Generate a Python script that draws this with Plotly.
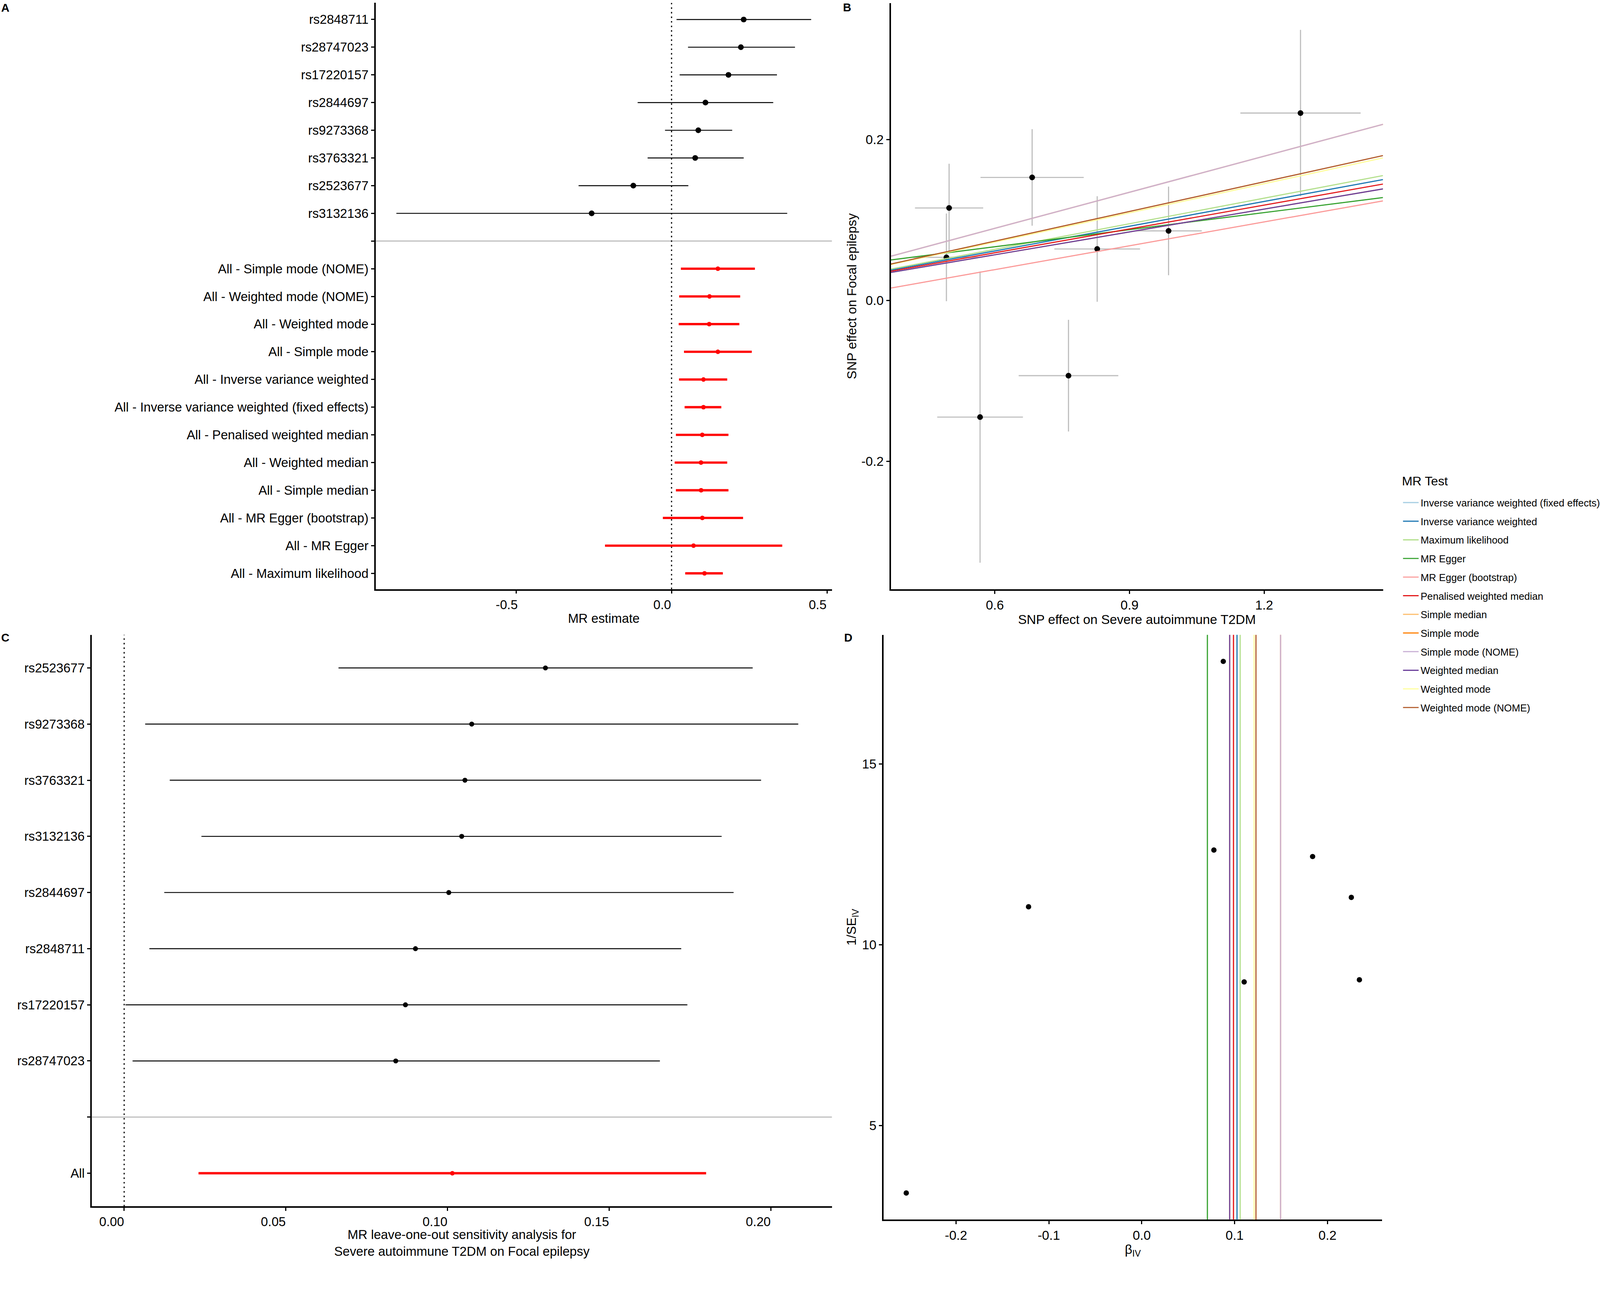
import plotly.graph_objects as go

# Reference picture size (photo pixels) and CSS scale of the photographed page
W, H = 4200, 3301
S = 1 / 1.024           # photo px -> css px


def P(v):
    return v * S


FONT = "Liberation Sans, Arial, sans-serif"

# ---------------- Panel A data ----------------
a_snps = ["rs2848711", "rs28747023", "rs17220157", "rs2844697",
          "rs9273368", "rs3763321", "rs2523677", "rs3132136"]
a_snp_b = [0.232, 0.223, 0.183, 0.109, 0.086, 0.076, -0.123, -0.257]
a_snp_lo = [0.016, 0.053, 0.026, -0.109, -0.021, -0.077, -0.299, -0.885]
a_snp_hi = [0.449, 0.397, 0.339, 0.327, 0.195, 0.232, 0.054, 0.372]

a_methods = ["All - Simple mode (NOME)", "All - Weighted mode (NOME)",
             "All - Weighted mode", "All - Simple mode",
             "All - Inverse variance weighted",
             "All - Inverse variance weighted (fixed effects)",
             "All - Penalised weighted median", "All - Weighted median",
             "All - Simple median", "All - MR Egger (bootstrap)",
             "All - MR Egger", "All - Maximum likelihood"]
a_meth_b = [0.149, 0.122, 0.121, 0.149, 0.1026, 0.1026, 0.0988, 0.0947,
            0.0950, 0.0990, 0.0707, 0.106]
a_meth_lo = [0.030, 0.0245, 0.023, 0.040, 0.024, 0.042, 0.014, 0.010,
             0.014, -0.028, -0.214, 0.044]
a_meth_hi = [0.268, 0.2207, 0.218, 0.258, 0.179, 0.160, 0.183, 0.179,
             0.183, 0.230, 0.356, 0.165]

# ---------------- Panel B data ----------------
b_bx = [0.498, 0.492, 0.683, 0.828, 0.987, 1.281, 0.764, 0.567]
b_by = [0.115, 0.0536, 0.153, 0.0640, 0.0865, 0.2330, -0.0935, -0.145]
b_sex = [0.076, 0.074, 0.115, 0.0955, 0.074, 0.134, 0.111, 0.0955]
b_sey = [0.055, 0.0545, 0.060, 0.0656, 0.0551, 0.1035, 0.0694, 0.181]

methods = ["Inverse variance weighted (fixed effects)",
           "Inverse variance weighted", "Maximum likelihood", "MR Egger",
           "MR Egger (bootstrap)", "Penalised weighted median",
           "Simple median", "Simple mode", "Simple mode (NOME)",
           "Weighted median", "Weighted mode", "Weighted mode (NOME)"]
method_b = [0.1026, 0.1026, 0.1060, 0.0707, 0.0988, 0.0988, 0.0947,
            0.1495, 0.1495, 0.0947, 0.1210, 0.1230]
method_a = [0, 0, 0, 0.0244, -0.0209, 0, 0, 0, 0, 0, 0, 0]
method_colors = ["#A6CEE3", "#1F78B4", "#B2DF8A", "#33A02C", "#FB9A99",
                 "#E31A1C", "#FDBF6F", "#FF7F00", "#CAB2D6", "#6A3D9A",
                 "#FFFF99", "#B15928"]

# ---------------- Panel C data ----------------
c_snps = ["rs2523677", "rs9273368", "rs3763321", "rs3132136",
          "rs2844697", "rs2848711", "rs17220157", "rs28747023"]
c_b = [0.1303, 0.1075, 0.1054, 0.1044, 0.1004, 0.0901, 0.0870, 0.0840]
c_lo = [0.0663, 0.0065, 0.0141, 0.0239, 0.0124, 0.0078, 0.0004, 0.0026]
c_hi = [0.1944, 0.2085, 0.1970, 0.1848, 0.1885, 0.1723, 0.1742, 0.1657]
c_all_b, c_all_lo, c_all_hi = 0.1015, 0.0230, 0.1800

# ---------------- Panel D data ----------------
d_beta = [0.0878, 0.0777, -0.1219, 0.1840, 0.2257, 0.1103, 0.2344, -0.2536]
d_invse = [17.84, 12.62, 11.05, 12.44, 11.31, 8.97, 9.03, 3.13]


# ---------------- helpers ----------------
def expand(lo, hi, f=0.05):
    s = hi - lo
    return [lo - f * s, hi + f * s]


def dom_x(x0, x1):
    return [x0 / W, x1 / W]


def dom_y(ytop, ybot):
    return [1 - ybot / H, 1 - ytop / H]


fig = go.Figure()

# ---- A ----
a_y_snp = list(range(len(a_snps)))
a_y_meth = list(range(len(a_snps) + 1, len(a_snps) + 1 + len(a_methods)))
fig.add_trace(go.Scatter(
    x=a_snp_b, y=a_y_snp, mode="markers", xaxis="x", yaxis="y",
    marker=dict(color="black", size=P(15)), showlegend=False,
    error_x=dict(type="data", symmetric=False,
                 array=[h - b for h, b in zip(a_snp_hi, a_snp_b)],
                 arrayminus=[b - l for b, l in zip(a_snp_b, a_snp_lo)],
                 color="black", thickness=P(2.5), width=0)))
fig.add_trace(go.Scatter(
    x=a_meth_b, y=a_y_meth, mode="markers", xaxis="x", yaxis="y",
    marker=dict(color="red", size=P(12)), showlegend=False,
    error_x=dict(type="data", symmetric=False,
                 array=[h - b for h, b in zip(a_meth_hi, a_meth_b)],
                 arrayminus=[b - l for b, l in zip(a_meth_b, a_meth_lo)],
                 color="red", thickness=P(6), width=0)))
a_xr = expand(min(a_snp_lo + a_meth_lo), max(a_snp_hi + a_meth_hi))
a_n = len(a_snps) + 1 + len(a_methods)

# ---- B ----
fig.add_trace(go.Scatter(
    x=b_bx, y=b_by, mode="markers", xaxis="x2", yaxis="y2",
    marker=dict(color="black", size=P(15)), showlegend=False,
    error_x=dict(type="data", array=b_sex, color="#BEBEBE", thickness=P(3), width=0),
    error_y=dict(type="data", array=b_sey, color="#BEBEBE", thickness=P(3), width=0)))
b_xr = expand(min(x - s for x, s in zip(b_bx, b_sex)),
              max(x + s for x, s in zip(b_bx, b_sex)))
b_yr = expand(min(y - s for y, s in zip(b_by, b_sey)),
              max(y + s for y, s in zip(b_by, b_sey)))
for m, b, a, col in zip(methods, method_b, method_a, method_colors):
    fig.add_trace(go.Scatter(
        x=b_xr, y=[a + b * x for x in b_xr], mode="lines",
        xaxis="x2", yaxis="y2", name=m, legendgroup=m,
        line=dict(color=col, width=P(3))))

# ---- C ----
c_y = list(range(len(c_snps)))
c_all_y = len(c_snps) + 1
fig.add_trace(go.Scatter(
    x=c_b, y=c_y, mode="markers", xaxis="x3", yaxis="y3",
    marker=dict(color="black", size=P(13)), showlegend=False,
    error_x=dict(type="data", symmetric=False,
                 array=[h - b for h, b in zip(c_hi, c_b)],
                 arrayminus=[b - l for b, l in zip(c_b, c_lo)],
                 color="black", thickness=P(2.5), width=0)))
fig.add_trace(go.Scatter(
    x=[c_all_b], y=[c_all_y], mode="markers", xaxis="x3", yaxis="y3",
    marker=dict(color="red", size=P(12)), showlegend=False,
    error_x=dict(type="data", symmetric=False,
                 array=[c_all_hi - c_all_b], arrayminus=[c_all_b - c_all_lo],
                 color="red", thickness=P(6), width=0)))
c_xr = expand(min(c_lo + [c_all_lo]), max(c_hi + [c_all_hi]))

# ---- D ----
fig.add_trace(go.Scatter(
    x=d_beta, y=d_invse, mode="markers", xaxis="x4", yaxis="y4",
    marker=dict(color="black", size=P(14)), showlegend=False))
d_xr = expand(min(d_beta + method_b), max(d_beta + method_b))
d_yr = expand(min(d_invse), max(d_invse))

DOT = "%.1fpx,%.1fpx" % (P(4), P(8))
shapes = []
shapes.append(dict(type="line", xref="x domain", yref="y", x0=0, x1=1,
                   y0=len(a_snps), y1=len(a_snps),
                   line=dict(color="#BEBEBE", width=P(3)), layer="below"))
shapes.append(dict(type="line", xref="x", yref="y domain", x0=0, x1=0, y0=0, y1=1,
                   line=dict(color="black", width=P(3), dash=DOT), layer="below"))
shapes.append(dict(type="line", xref="x3 domain", yref="y3", x0=0, x1=1,
                   y0=len(c_snps), y1=len(c_snps),
                   line=dict(color="#BEBEBE", width=P(3)), layer="below"))
shapes.append(dict(type="line", xref="x3", yref="y3 domain", x0=0, x1=0, y0=0, y1=1,
                   line=dict(color="black", width=P(3), dash=DOT), layer="below"))
for b, col in zip(method_b, method_colors):
    shapes.append(dict(type="line", xref="x4", yref="y4 domain", x0=b, x1=b,
                       y0=0, y1=1, line=dict(color=col, width=P(3)), layer="above"))

axis_common = dict(showline=True, linecolor="black", linewidth=P(4), ticks="outside",
                   ticklen=P(8), tickwidth=P(3), tickcolor="black", showgrid=False,
                   zeroline=False, mirror=False)
fs_ac = P(33.5)
fs_bd = P(34)

fig.update_layout(
    width=int(W * S), height=int(H * S), margin=dict(l=0, r=0, t=0, b=0),
    paper_bgcolor="white", plot_bgcolor="white",
    font=dict(family=FONT, color="black", size=fs_ac),
    shapes=shapes,
    xaxis=dict(axis_common, domain=dom_x(988, 2188), anchor="y", range=a_xr,
               tickvals=[-0.5, 0.0, 0.5], ticktext=["-0.5", "0.0", "0.5"],
               ticklabelshift=int(round(P(-25))), tickfont=dict(size=fs_ac),
               title=dict(text="MR estimate", font=dict(size=P(33.5)), standoff=P(8))),
    yaxis=dict(axis_common, domain=dom_y(7.6, 1549.5), anchor="x",
               range=[a_n - 1 + 0.57, -0.6],
               tickvals=list(range(a_n)), ticktext=a_snps + [""] + a_methods,
               tickfont=dict(size=fs_ac)),
    xaxis2=dict(axis_common, domain=dom_x(2343, 3637.5), anchor="y2", range=b_xr,
                tickvals=[0.6, 0.9, 1.2], ticktext=["0.6", "0.9", "1.2"],
                tickfont=dict(size=fs_bd),
                title=dict(text="SNP effect on Severe autoimmune T2DM",
                           font=dict(size=fs_bd), standoff=P(8))),
    yaxis2=dict(axis_common, domain=dom_y(8.4, 1550), anchor="x2", range=b_yr,
                tickvals=[-0.2, 0.0, 0.2], ticktext=["-0.2", "0.0", "0.2"],
                tickfont=dict(size=fs_bd),
                title=dict(text="SNP effect on Focal epilepsy",
                           font=dict(size=fs_bd), standoff=P(3))),
    xaxis3=dict(axis_common, domain=dom_x(241.5, 2188), anchor="y3", range=c_xr,
                tickvals=[0, 0.05, 0.10, 0.15, 0.20],
                ticktext=["0.00", "0.05", "0.10", "0.15", "0.20"],
                ticklabelshift=int(round(P(-33))), tickfont=dict(size=fs_ac),
                title=dict(text="MR leave-one-out sensitivity analysis for<br>"
                                "Severe autoimmune T2DM on Focal epilepsy",
                           font=dict(size=P(33.5)), standoff=P(10))),
    yaxis3=dict(axis_common, domain=dom_y(1669.7, 3173), anchor="x3",
                range=[c_all_y + 0.59, -0.59],
                tickvals=list(range(c_all_y + 1)), ticktext=c_snps + ["", "All"],
                tickfont=dict(size=fs_ac)),
    xaxis4=dict(axis_common, domain=dom_x(2324, 3635), anchor="y4", range=d_xr,
                tickvals=[-0.2, -0.1, 0.0, 0.1, 0.2],
                ticktext=["-0.2", "-0.1", "0.0", "0.1", "0.2"],
                tickfont=dict(size=fs_bd),
                title=dict(text="β<sub>IV</sub>", font=dict(size=fs_bd), standoff=P(8))),
    yaxis4=dict(axis_common, domain=dom_y(1669.7, 3207.8), anchor="x4", range=d_yr,
                tickvals=[5, 10, 15], ticktext=["5", "10", "15"],
                tickfont=dict(size=fs_bd),
                title=dict(text="1/SE<sub>IV</sub>", font=dict(size=fs_bd), standoff=P(6))),
    legend=dict(x=3685 / W, y=1 - 1298 / H, xanchor="left", yanchor="top",
                font=dict(size=P(26.3)), bgcolor="rgba(0,0,0,0)",
                tracegroupgap=P(11.6), itemwidth=40),
    annotations=[
        dict(text="<b>A</b>", x=14 / W, y=1 - 20 / H, xanchor="center",
             font=dict(size=P(30), family=FONT)),
        dict(text="<b>B</b>", x=2228 / W, y=1 - 19 / H, xanchor="center",
             font=dict(size=P(30), family=FONT)),
        dict(text="<b>C</b>", x=14 / W, y=1 - 1677 / H, xanchor="center",
             font=dict(size=P(30), family=FONT)),
        dict(text="<b>D</b>", x=2231 / W, y=1 - 1677 / H, xanchor="center",
             font=dict(size=P(30), family=FONT)),
        dict(text="MR Test", x=3685 / W, y=1 - 1265 / H, xanchor="left",
             font=dict(size=P(33), family=FONT)),
    ],
)
for ann in fig.layout.annotations:
    ann.update(xref="paper", yref="paper", showarrow=False, yanchor="middle")

fig.write_html("out.html", config={"displayModeBar": False},
               post_script="document.body.style.margin='0';")
